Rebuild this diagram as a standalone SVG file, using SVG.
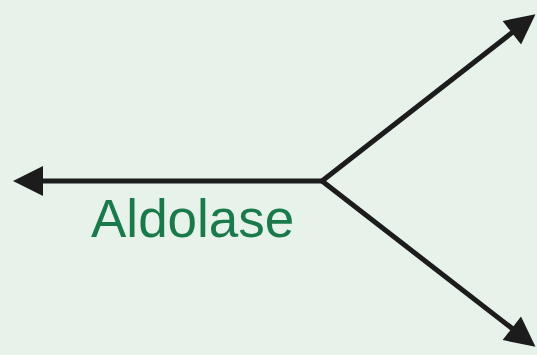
<svg xmlns="http://www.w3.org/2000/svg" width="537" height="355" viewBox="0 0 537 355">
  <style>
    .conn { stroke: #1c1c1c; stroke-width: 5; fill: none; }
    .label { font-family: "Liberation Sans", Arial, sans-serif; font-size: 53px; fill: #1a7a4c; }
  </style>
  <defs>
    <!-- arrowhead anchored inside the head so the shaft never pokes past the tip -->
    <marker id="arrow" viewBox="0 0 10 10" refX="4" refY="5" markerWidth="6.2" markerHeight="6" markerUnits="strokeWidth" orient="auto">
      <path d="M0,0 L10,5 L0,10 Z" fill="#1c1c1c"/>
    </marker>
  </defs>
  <rect width="537" height="355" fill="#e7f3ea"/>
  <g id="connectors">
    <line class="conn" x1="322" y1="181" x2="31" y2="181" marker-end="url(#arrow)"/>
    <line class="conn" x1="322" y1="181" x2="521.3" y2="25.4" marker-end="url(#arrow)"/>
    <line class="conn" x1="322" y1="181" x2="521.3" y2="335.6" marker-end="url(#arrow)"/>
  </g>
  <g id="aldolase">
    <text class="label" x="91" y="237">Aldolase</text>
  </g>
</svg>
